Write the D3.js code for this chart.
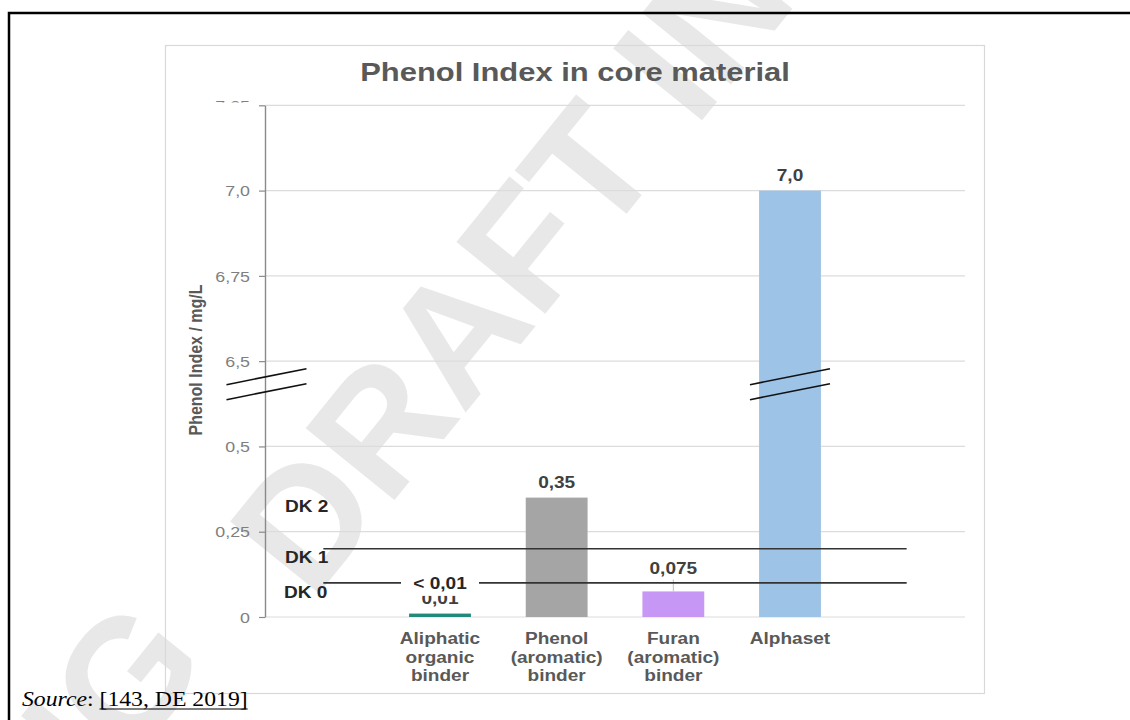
<!DOCTYPE html>
<html><head><meta charset="utf-8">
<script src="https://cdn.jsdelivr.net/npm/d3@7"></script>
<style>html,body{margin:0;padding:0;background:#fff;} svg{display:block}</style>
</head><body>
<svg id="c" width="1130" height="720"></svg>
<script>
// ---- data ----
const categories = ["Aliphatic organic binder", "Phenol (aromatic) binder", "Furan (aromatic) binder", "Alphaset"];
const categoryLines = [["Aliphatic", "organic", "binder"], ["Phenol", "(aromatic)", "binder"], ["Furan", "(aromatic)", "binder"], ["Alphaset"]];
const values = [0.01, 0.35, 0.075, 7.0];
const valueLabels = ["0,01", "0,35", "0,075", "7,0"];
const barColors = ["#23897a", "#a5a5a5", "#c797f5", "#9dc3e6"];
const yTicks = [0, 0.25, 0.5, 6.5, 6.75, 7.0, 7.25];
const yTickLabels = ["0", "0,25", "0,5", "6,5", "6,75", "7,0", "7,25"];
const limitNames = ["DK 0", "DK 1", "DK 2"];
const limitValues = [0.1, 0.2];
const belowNote = "< 0,01";
const title = "Phenol Index in core material";
const yTitle = "Phenol Index / mg/L";
const sourceLabel = "Source";
const sourceRef = "[143, DE 2019]";
const watermarkBefore = "WORKING";
const watermarkAfter = "DRAFT IN PROGRESS";

// ---- layout ----
const SX = 1.19;
const FONT = "'Liberation Sans', Arial, sans-serif";
const svg = d3.select("#c");
const plotL = 265, plotR = 965, plotT = 105.3, plotB = 617;
const step = (plotB - plotT) / 6;

const y = d3.scaleLinear()
  .domain([0, 0.5, 6.5, 7.25])
  .range([plotB, plotB - 2 * step, plotB - 3 * step, plotT]);

const slots = ["__a", ...categories, "__b"];
const x = d3.scaleBand().domain(slots).range([plotL, plotR]).paddingInner(0.47).paddingOuter(0.235);
const bw = x.bandwidth();
const cx = c => x(c) + bw / 2;

function stext(sel, px, py, str, o = {}) {
  return sel.append("text")
    .attr("transform", `translate(${px},${py}) scale(${SX},1)` + (o.rot ? ` rotate(${o.rot})` : ""))
    .attr("text-anchor", o.anchor || "middle")
    .attr("font-family", FONT)
    .attr("font-weight", o.weight || "bold")
    .attr("font-size", o.size || 16)
    .attr("fill", o.fill || "#404040")
    .text(str);
}

// watermark (behind)
const wm = svg.append("g")
  .attr("transform", "translate(312,602) rotate(-51)")
  .attr("font-family", FONT).attr("font-weight", "bold")
  .attr("font-size", 166).attr("fill", "#e8e8e8");
wm.append("text").attr("x", -110).attr("y", -40).attr("text-anchor", "end").text(watermarkBefore);
wm.append("text").attr("x", 0).attr("text-anchor", "start").text(watermarkAfter);

// chart frame
svg.append("rect").attr("x", 165.5).attr("y", 45.5).attr("width", 819).attr("height", 648)
  .attr("fill", "none").attr("stroke", "#d9d9d9").attr("stroke-width", 1.2);

// gridlines
svg.append("g").selectAll("line").data(yTicks).join("line")
  .attr("x1", plotL).attr("x2", plotR)
  .attr("y1", d => y(d)).attr("y2", d => y(d))
  .attr("stroke", "#dcdcdc").attr("stroke-width", 1.2);

// y axis
const axis = svg.append("g").attr("transform", `translate(${plotL},0)`)
  .call(d3.axisLeft(y).tickValues(yTicks).tickFormat((d, i) => yTickLabels[i]).tickSize(6).tickSizeOuter(0));
axis.select(".domain").attr("stroke", "#8a8a8a").attr("stroke-width", 1.4);
axis.selectAll(".tick line").attr("stroke", "#8a8a8a").attr("stroke-width", 1.2);
axis.selectAll(".tick text")
  .attr("x", -15 / SX).attr("dy", "0.35em")
  .attr("transform", `scale(${SX},1)`)
  .attr("font-family", FONT).attr("font-size", 15).attr("fill", "#7f7f7f");
svg.append("defs").append("clipPath").attr("id", "topclip")
  .append("rect").attr("x", -200).attr("y", -20).attr("width", 200).attr("height", 16.6);
axis.selectAll(".tick text").filter(d => d === 7.25).attr("clip-path", "url(#topclip)");

// bars
svg.append("g").selectAll("rect").data(values).join("rect")
  .attr("x", (d, i) => x(categories[i]))
  .attr("width", bw)
  .attr("y", d => y(d))
  .attr("height", d => plotB - y(d))
  .attr("fill", (d, i) => barColors[i]);

// value labels
const lblG = svg.append("g");
values.forEach((v, i) => {
  const lead = categories[i].startsWith("Furan");
  const by = y(v) - (lead ? 17 : 10);
  stext(lblG, cx(categories[i]), by, valueLabels[i], { fill: "#404040" });
  if (lead) {
    lblG.append("line").attr("x1", cx(categories[i])).attr("x2", cx(categories[i]))
      .attr("y1", by + 5).attr("y2", y(v)).attr("stroke", "#bfbfbf").attr("stroke-width", 1);
  }
});

// limit lines
const lx1 = x("__a") + bw / 2, lx2 = x("__b") + bw / 2;
svg.append("g").selectAll("line").data(limitValues).join("line")
  .attr("x1", lx1).attr("x2", lx2)
  .attr("y1", d => y(d)).attr("y2", d => y(d))
  .attr("stroke", "#333").attr("stroke-width", 1.6);

// "< 0,01" note with white box
const nx = cx(categories[0]);
svg.append("rect").attr("x", nx - 39).attr("y", y(limitValues[0]) - 11).attr("width", 78).attr("height", 24).attr("fill", "#fff");
stext(svg, nx, y(limitValues[0]) + 6, belowNote, { fill: "#262626" });

// DK labels
const dkG = svg.append("g");
stext(dkG, 284, y(limitValues[0]) + 15.5, limitNames[0], { anchor: "start", fill: "#262626" });
stext(dkG, 285, y(limitValues[1]) + 14, limitNames[1], { anchor: "start", fill: "#262626" });
stext(dkG, 285, y(limitValues[1]) - 37, limitNames[2], { anchor: "start", fill: "#262626" });

// break marks
const bY = y(6.5) + 0.27 * (y(0.5) - y(6.5));
function breakMark(xc) {
  [-7.5, 7.5].forEach(off => {
    svg.append("line").attr("x1", xc - 40).attr("y1", bY + off + 8).attr("x2", xc + 40).attr("y2", bY + off - 8)
      .attr("stroke", "#111").attr("stroke-width", 1.6);
  });
}
breakMark(plotL + 1.5);
breakMark(cx(categories[3]));

// title
stext(svg, 575, 81, title, { size: 26, fill: "#595959" });

// y title
stext(svg, 202, 360, yTitle, { size: 16, fill: "#595959", rot: -90 });

// x labels
const xl = svg.append("g");
categoryLines.forEach((lines, i) => {
  lines.forEach((t, j) => {
    stext(xl, cx(categories[i]), plotB + 27 + j * 18.5, t, { fill: "#595959" });
  });
});

// source
const srcG = svg.append("g").attr("transform", `translate(22,706) scale(1.13,1)`);
const src = srcG.append("text")
  .attr("font-family", "'Liberation Serif', 'Times New Roman', serif")
  .attr("font-size", 21).attr("fill", "#000")
  .style("white-space", "pre");
src.append("tspan").attr("font-style", "italic").text(sourceLabel);
src.append("tspan").text(": ");
src.append("tspan").text(sourceRef);
const nd = src.node();
const startRef = nd.getSubStringLength(0, sourceLabel.length + 2);
const endRef = nd.getComputedTextLength();
srcG.append("line").attr("x1", startRef).attr("x2", endRef).attr("y1", 3).attr("y2", 3)
  .attr("stroke", "#000").attr("stroke-width", 1.2);

// outer border
svg.append("rect").attr("x", 9).attr("y", 13).attr("width", 2000).attr("height", 2000)
  .attr("fill", "none").attr("stroke", "#000").attr("stroke-width", 2.5);
</script>
</body></html>
